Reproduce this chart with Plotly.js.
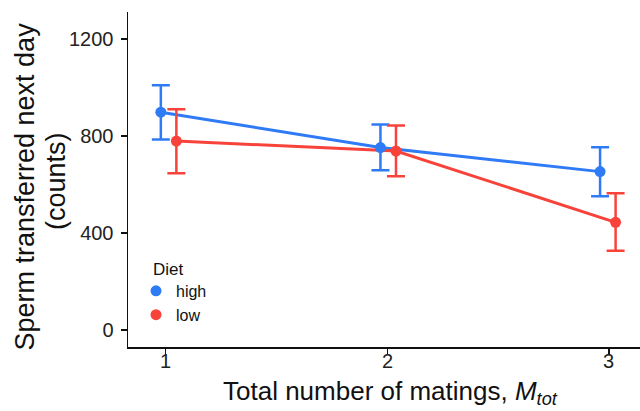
<!DOCTYPE html>
<html>
<head>
<meta charset="utf-8">
<script src="https://cdn.plot.ly/plotly-3.0.1.min.js"></script>
<style>html,body{margin:0;padding:0;background:#fff;}#chart{width:640px;height:411px;}</style>
</head>
<body>
<div id="chart"></div>
<script>
var matings = [1, 2, 3];
var highX = [0.98, 1.97, 2.96];
var lowX = [1.05, 2.04, 3.03];
var highMean = [898, 752, 653];
var highUpper = [1009, 847, 753];
var highLower = [785, 659, 551];
var lowMean = [779, 738, 444];
var lowUpper = [910, 843, 564];
var lowLower = [646, 634, 327];
var yTicks = [0, 400, 800, 1200];

var blue = '#2F7BF6';
var red = '#F8433B';
var ink = '#111';

function diff(a, b) { return a.map(function (v, i) { return v - b[i]; }); }

var traces = [
  {x: highX, y: highMean, mode: 'lines', line: {color: blue, width: 3}, showlegend: false, hoverinfo: 'skip'},
  {x: lowX, y: lowMean, mode: 'lines', line: {color: red, width: 3}, showlegend: false, hoverinfo: 'skip'},
  {x: highX, y: highMean, mode: 'markers', name: 'high', marker: {color: blue, size: 11},
   error_y: {type: 'data', symmetric: false, array: diff(highUpper, highMean), arrayminus: diff(highMean, highLower), color: blue, thickness: 2.5, width: 9}},
  {x: lowX, y: lowMean, mode: 'markers', name: 'low', marker: {color: red, size: 11},
   error_y: {type: 'data', symmetric: false, array: diff(lowUpper, lowMean), arrayminus: diff(lowMean, lowLower), color: red, thickness: 2.5, width: 9}}
];

var annotations = matings.map(function (m) {
  return {x: m, xref: 'x', y: -0.042, yref: 'paper', yanchor: 'middle', xanchor: 'center',
          text: String(m), showarrow: false, font: {size: 20, color: '#222'}};
});
annotations.push({x: 0.512, xref: 'paper', y: -0.137, yref: 'paper', xanchor: 'center', yanchor: 'middle',
  text: 'Total number of matings, <i>M</i><sub><i>tot</i></sub>', showarrow: false, font: {size: 26, color: ink}});
annotations.push({x: -0.2012, xref: 'paper', y: 0.479, yref: 'paper', xanchor: 'center', yanchor: 'middle',
  textangle: -90, text: 'Sperm transferred next day', showarrow: false, font: {size: 27, color: ink}});
annotations.push({x: -0.1406, xref: 'paper', y: 0.4955, yref: 'paper', xanchor: 'center', yanchor: 'middle',
  textangle: -90, text: '(counts)', showarrow: false, font: {size: 27, color: ink}});
annotations.push({x: 0.045, xref: 'paper', y: 0.230, yref: 'paper', xanchor: 'left', yanchor: 'middle',
  text: 'Diet', showarrow: false, font: {size: 17, color: ink}});

var layout = {
  width: 640, height: 411,
  margin: {l: 128, r: 0, t: 12, b: 64},
  paper_bgcolor: '#fff', plot_bgcolor: '#fff',
  font: {family: 'Liberation Sans, Arial, sans-serif', color: ink},
  xaxis: {
    range: [0.832, 3.14], tickvals: matings, showticklabels: false,
    showgrid: false, zeroline: false, showline: true, linecolor: ink, linewidth: 1.5,
    ticks: 'outside', ticklen: 6, tickwidth: 1.2, tickcolor: ink
  },
  yaxis: {
    range: [-70, 1311], tickvals: yTicks, ticktext: yTicks.map(String),
    showgrid: false, zeroline: false, showline: true, linecolor: ink, linewidth: 1.5,
    ticks: 'outside', ticklen: 6, tickwidth: 1.2, tickcolor: ink, ticklabelstandoff: 3,
    tickfont: {size: 20, color: '#222'}
  },
  legend: {
    x: (136 - 128) / 512, y: 0.218, xanchor: 'left', yanchor: 'top',
    bgcolor: 'rgba(0,0,0,0)', font: {size: 16, color: ink},
    itemwidth: 30, tracegroupgap: 0
  },
  annotations: annotations,
  showlegend: true
};

Plotly.newPlot('chart', traces, layout, {displayModeBar: false, staticPlot: true});
</script>
</body>
</html>
